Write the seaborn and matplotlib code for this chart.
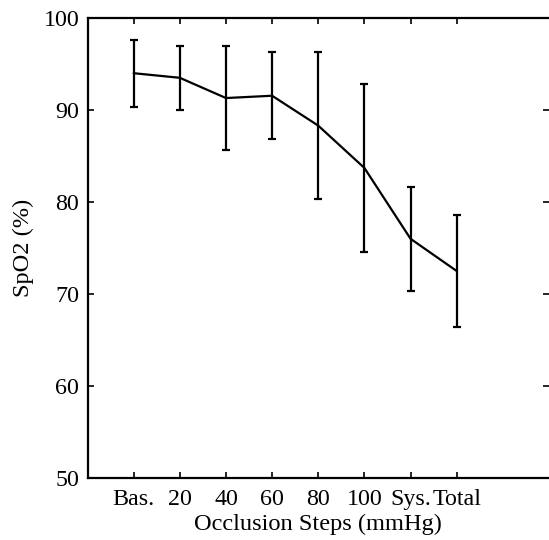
import matplotlib
matplotlib.use("Agg")
import matplotlib.pyplot as plt
import seaborn as sns
import numpy as np
import pandas as pd

categories = ["Bas.", "20", "40", "60", "80", "100", "Sys.", "Total"]
spo2_mean = [94.0, 93.5, 91.3, 91.55, 88.3, 83.7, 76.0, 72.5]
spo2_sd = [3.65, 3.45, 5.7, 4.7, 7.95, 9.15, 5.65, 6.1]
y_ticks = [50, 60, 70, 80, 90, 100]

sns.set_theme(style="white")
plt.rcParams["font.family"] = ["Liberation Serif", "DejaVu Serif"]
plt.rcParams["text.color"] = "black"
plt.rcParams["axes.labelcolor"] = "black"

fig = plt.figure(figsize=(5.49, 5.40), dpi=100)
ax = fig.add_axes([87.5 / 549, 1 - 478 / 540, (549 - 87.5) / 549, (478 - 18) / 540])

pos = np.arange(1, len(categories) + 1)
df = pd.DataFrame({"pos": pos, "mean": spo2_mean, "sd": spo2_sd})

sns.lineplot(data=df, x="pos", y="mean", ax=ax, color="black", linewidth=1.6)
ax.errorbar(df["pos"], df["mean"], yerr=df["sd"], fmt="none", ecolor="black",
            elinewidth=1.6, capsize=2.6, capthick=1.6)

ax.set_xlim(0, 10)
ax.set_ylim(50, 100)
ax.set_xticks(pos)
ax.set_xticklabels(categories)
ax.set_yticks(y_ticks)
ax.set_xlabel("Occlusion Steps (mmHg)", fontsize=17.6, labelpad=3)
ax.set_ylabel("SpO2 (%)", fontsize=17.6, labelpad=7)

for s in ["left", "bottom", "top"]:
    ax.spines[s].set_visible(True)
    ax.spines[s].set_color("black")
    ax.spines[s].set_linewidth(1.6)
ax.spines["right"].set_visible(False)

ax.tick_params(axis="both", which="major", direction="in", length=4, width=1.2,
               color="black", labelsize=17.3, labelcolor="black",
               top=True, right=True, bottom=True, left=True)
ax.tick_params(axis="x", pad=8)
ax.tick_params(axis="y", pad=6)
ax.grid(False)

fig.savefig("out.png", dpi=100, facecolor="white")
